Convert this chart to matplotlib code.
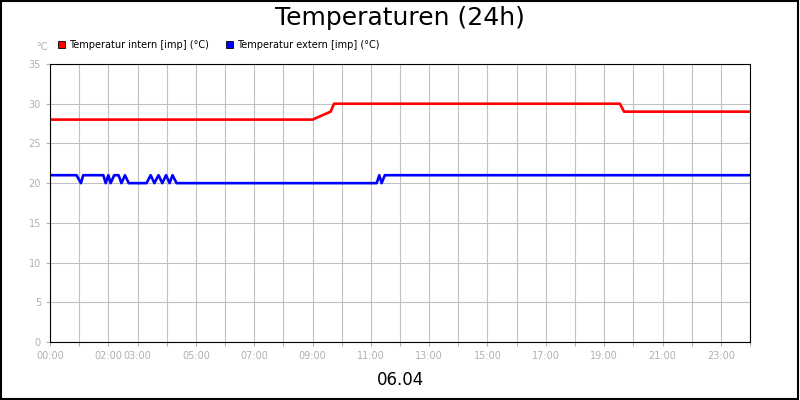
import matplotlib
matplotlib.use("Agg")
from matplotlib import pyplot as plt
from matplotlib.patches import Rectangle

# hours of day -> temperature
intern_h = [0, 9.0, 9.62, 9.74, 19.54, 19.68, 24]
intern_v = [28, 28, 29, 30, 30, 29, 29]

extern_h = [0, 0.91, 1.06, 1.14, 1.83, 1.91, 2.0, 2.08, 2.2, 2.35, 2.45, 2.57, 2.7, 2.8,
            3.31, 3.45, 3.58, 3.72, 3.85, 3.98, 4.1, 4.2, 4.34,
            11.2, 11.29, 11.37, 11.48, 24]
extern_v = [21, 21, 20, 21, 21, 20, 21, 20, 21, 21, 20, 21, 20, 20,
            20, 21, 20, 21, 20, 21, 20, 21, 20,
            20, 21, 20, 21, 21]

tick_hours = [0, 2, 3, 5, 7, 9, 11, 13, 15, 17, 19, 21, 23]
y_ticks = [0, 5, 10, 15, 20, 25, 30, 35]

fig = plt.figure(figsize=(8, 4), dpi=100)
fig.patches.append(Rectangle((0.001, 0.002), 0.997, 0.996, transform=fig.transFigure,
                             fill=False, edgecolor="black", linewidth=1.5))
ax = fig.add_axes([50 / 800, 1 - 342 / 400, 700 / 800, 278 / 400])

ax.plot(intern_h, intern_v, color="#ff0000", linewidth=1.9)
ax.plot(extern_h, extern_v, color="#0000ff", linewidth=1.9)

ax.set_xlim(0, 24)
ax.set_ylim(0, 35)
ax.set_xticks(range(25))
ax.set_xticklabels(["%02d:00" % h if h in tick_hours else "" for h in range(25)])
ax.set_yticks(y_ticks)
ax.grid(True, color="#c0c0c0", linewidth=0.8)
ax.set_axisbelow(True)
ax.tick_params(colors="#b0b0b0", labelsize=7, length=3, labelcolor="#b0b0b0")
for s in ax.spines.values():
    s.set_color("black")

fig.text(0.5, 0.955, "Temperaturen (24h)", ha="center", va="center", fontsize=18)
fig.text(0.5, 0.05, "06.04", ha="center", va="center", fontsize=12)
fig.text(42 / 800, 1 - 47 / 400, "°C", ha="center", va="center", fontsize=7, color="#b0b0b0")

for x0, col, lab in [(58, "#ff0000", "Temperatur intern [imp] (°C)"),
                     (226, "#0000ff", "Temperatur extern [imp] (°C)")]:
    fig.patches.append(Rectangle((x0 / 800, 1 - 48 / 400), 7 / 800, 7 / 400,
                                 transform=fig.transFigure, facecolor=col,
                                 edgecolor="black", linewidth=0.6))
    fig.text((x0 + 11) / 800, 1 - 44.5 / 400, lab, va="center", fontsize=7)

fig.savefig("out.png", dpi=100)
